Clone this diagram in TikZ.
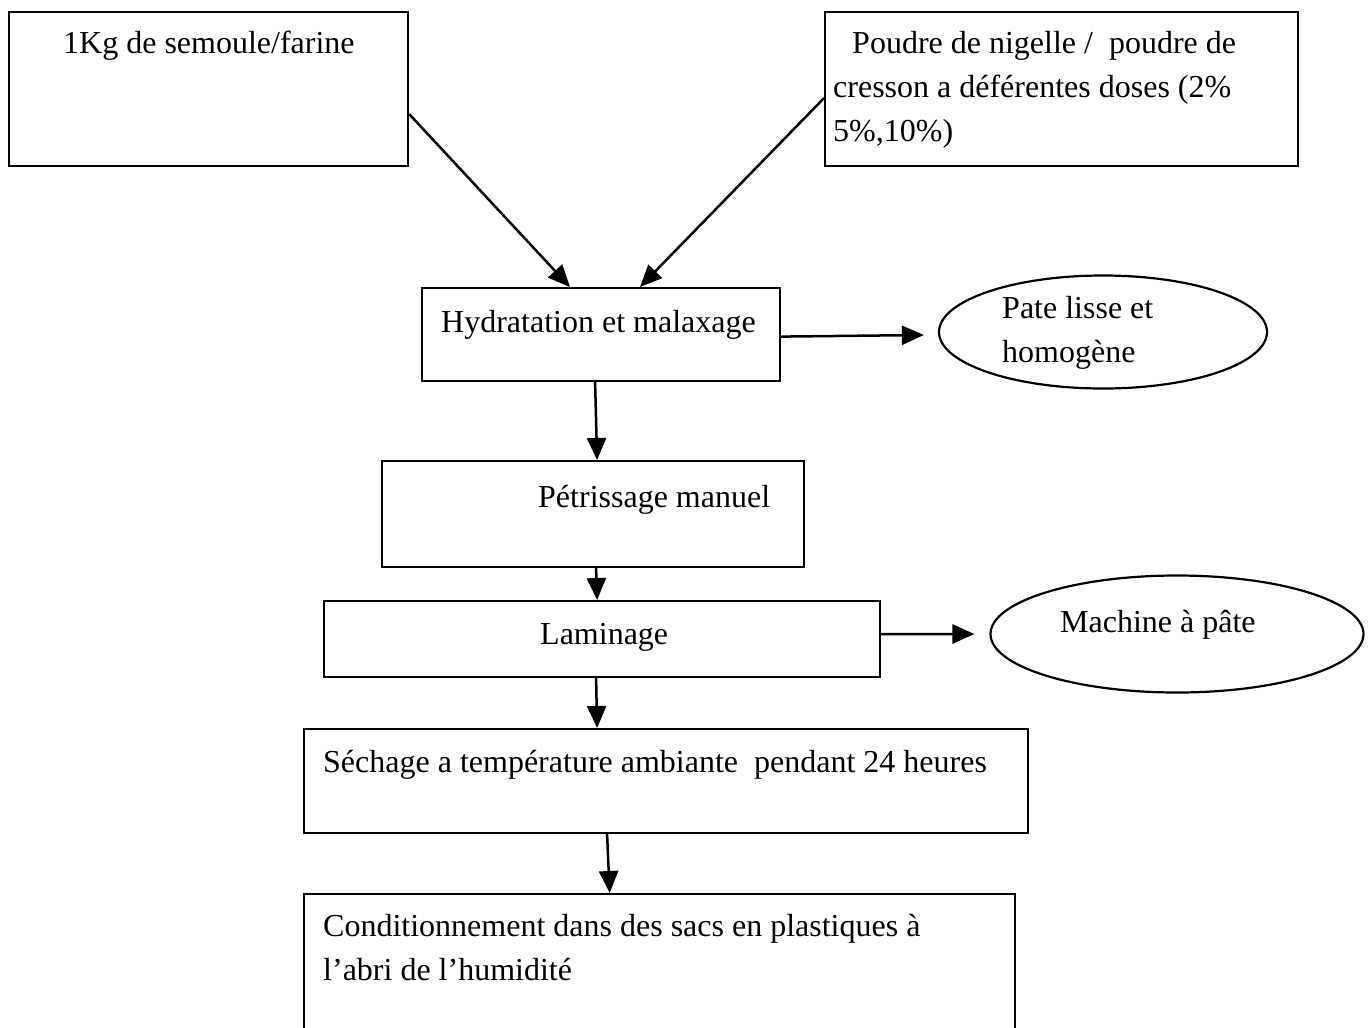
\documentclass[tikz,border=0pt]{standalone}
\usepackage{fontspec}
\setmainfont{Liberation Serif}
\usetikzlibrary{arrows.meta,shapes.geometric,calc}
\begin{document}
\begin{tikzpicture}[x=1pt,y=-1pt,
  box/.style={draw,line width=2.2pt,anchor=north west,inner sep=0pt},
  oval/.style={draw,line width=2.2pt,ellipse,inner sep=0pt},
  lbl/.style={anchor=base west,inner sep=0pt,font=\fontsize{32}{44}\selectfont},
  arr/.style={line width=2.5pt,-{Triangle[length=22pt,width=19pt]}}]
\useasboundingbox (0,0) rectangle (1371,1028);
% boxes
\node[box,minimum width=399pt,minimum height=154pt] (b1) at (8,11) {};
\node[box,minimum width=473pt,minimum height=154pt] (b2) at (824,11) {};
\node[box,minimum width=358pt,minimum height=93pt] (b3) at (421,287) {};
\node[box,minimum width=422pt,minimum height=106pt] (b4) at (381,460) {};
\node[box,minimum width=556pt,minimum height=76pt] (b5) at (323,600) {};
\node[box,minimum width=724pt,minimum height=104pt] (b6) at (303,728) {};
\node[box,minimum width=711pt,minimum height=160pt] (b7) at (303,893) {};
\node[oval,minimum width=328pt,minimum height=113pt] (e1) at (1103,332) {};
\node[oval,minimum width=373pt,minimum height=117pt] (e2) at (1177,634) {};
% texts
\node[lbl] (t1) at (63,53) {1Kg de semoule/farine};
\node[lbl,align=left,anchor=north west] (t2) at (833,31) {\hspace*{19pt}Poudre de nigelle /\ \ poudre de\\cresson a déférentes doses (2\%\\5\%,10\%)};
\node[lbl] (t3) at (441,332) {Hydratation et malaxage};
\node[lbl,align=left,anchor=north west] (t4) at (1002,296) {Pate lisse et\\homogène};
\node[lbl] (t5) at (538,507) {Pétrissage manuel};
\node[lbl] (t6) at (540,644) {Laminage};
\node[lbl] (t7) at (1060,632) {Machine à pâte};
\node[lbl] (t8) at (323,772) {Séchage a température ambiante\ \ pendant 24 heures};
\node[lbl,align=left,anchor=north west] (t9) at (323,914) {Conditionnement dans des sacs en plastiques à\\l’abri de l’humidité};
% connectors
\draw[arr] ([yshift=-25pt]b1.east) -- ([xshift=149pt]b3.north west);
\draw[arr] ([yshift=-9pt]b2.west) -- ([xshift=219pt]b3.north west);
\draw[arr] ([yshift=-2pt]b3.east) -- ([xshift=-14pt,yshift=-3pt]e1.west);
\draw[arr] ([xshift=-6pt]b3.south) -- ([xshift=4pt]b4.north);
\draw[arr] ([xshift=3pt]b4.south) -- ([xshift=-5pt]b5.north);
\draw[arr] ([xshift=-2pt,yshift=5pt]b5.east) -- ([xshift=-15pt]e2.west);
\draw[arr] ([xshift=-6pt]b5.south) -- ([xshift=-69pt]b6.north);
\draw[arr] ([xshift=-59pt]b6.south) -- ([xshift=-50pt]b7.north);
\end{tikzpicture}
\end{document}
